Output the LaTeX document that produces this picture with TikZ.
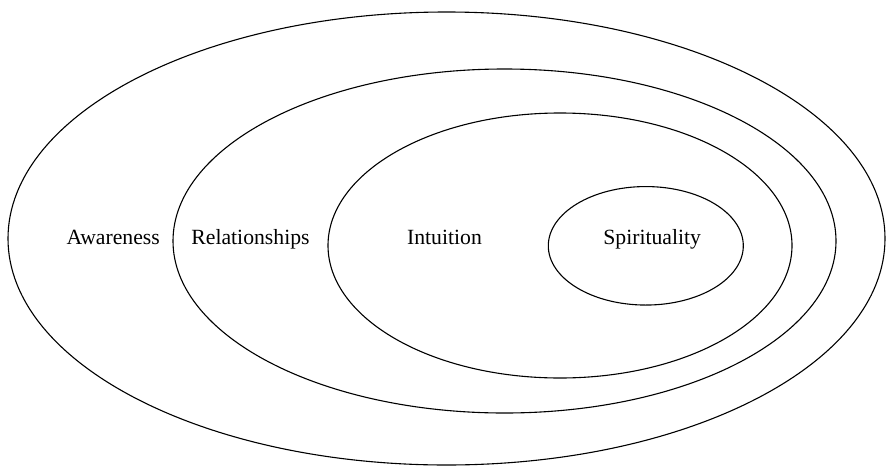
\documentclass[tikz,border=0pt]{standalone}
\usepackage{fontspec}
\setmainfont{Liberation Serif}
\usetikzlibrary{shapes.geometric}
\begin{document}
\begin{tikzpicture}[x=1pt,y=1pt,
  ring/.style={ellipse,draw,line width=1.1pt,inner sep=0pt},
  lbl/.style={anchor=base,font=\fontsize{21.7}{26}\selectfont,inner sep=0pt}]
\useasboundingbox (0,0) rectangle (888,-466);
\node[ring,minimum width=877pt,minimum height=453pt] (outer) at (446.5,-238.5) {};
\node[ring,minimum width=663pt,minimum height=344pt] (second) at (504.5,-241) {};
\node[ring,minimum width=464pt,minimum height=265pt] (third) at (560,-245.5) {};
\node[ring,minimum width=195pt,minimum height=118.5pt] (inner) at (645.8,-245.8) {};
\node[lbl] (aw) at (113.2,-244) {Awareness};
\node[lbl] (rel) at (250.5,-244) {Relationships};
\node[lbl] (int) at (444.5,-244) {Intuition};
\node[lbl] (spi) at (652.2,-244) {Spirituality};
\end{tikzpicture}
\end{document}
